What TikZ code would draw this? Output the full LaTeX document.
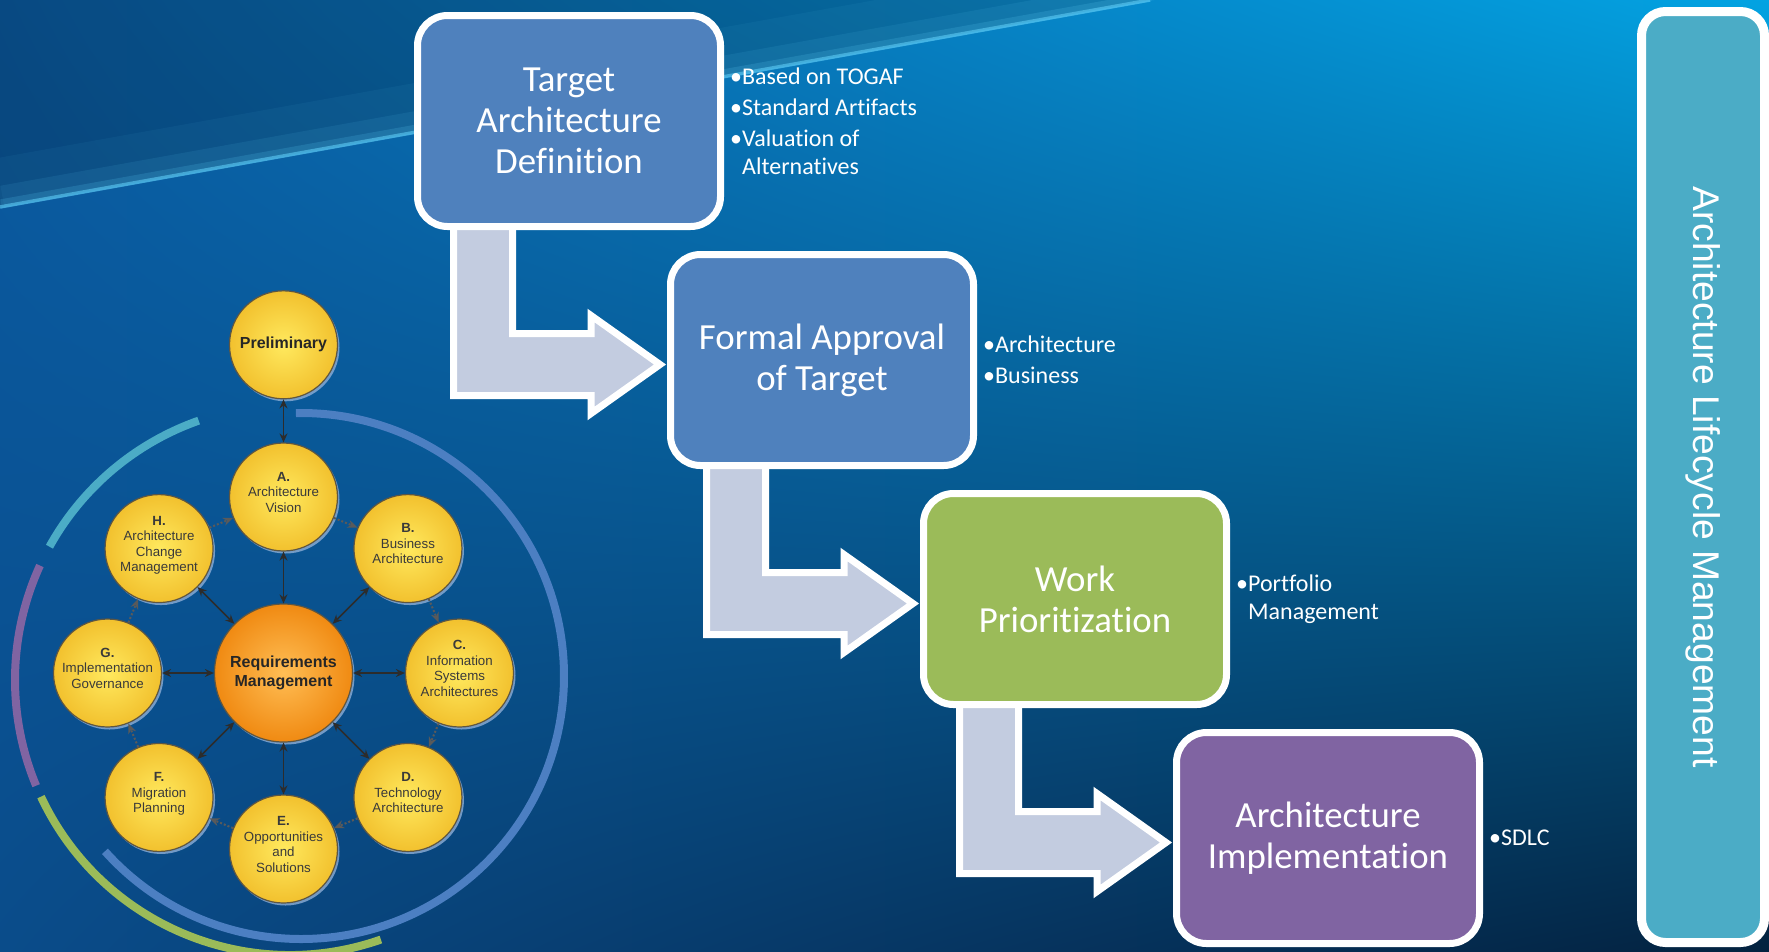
\documentclass[tikz,border=0pt]{standalone}
\usepackage{fontspec}
\setmainfont{Carlito}[Ligatures=NoCommon]
\newfontfamily\togaffont{Liberation Sans}
\usetikzlibrary{arrows.meta,positioning,calc,shadows,shadings}
\definecolor{stageblue}{HTML}{4F81BD}
\definecolor{stagegreen}{HTML}{9BBB59}
\definecolor{stagepurple}{HTML}{8064A2}
\definecolor{lifeteal}{HTML}{4BACC6}
\definecolor{arrowgrey}{HTML}{C3CCE0}
\definecolor{bgul}{HTML}{0A5CA3}
\definecolor{bgur}{HTML}{03A3E2}
\definecolor{bgll}{HTML}{0A4C8A}
\definecolor{bglr}{HTML}{03223F}
\definecolor{glowcyan}{HTML}{5CCBF5}
\definecolor{sunlight}{HTML}{FFE95E}
\definecolor{sungold}{HTML}{F2C12E}
\definecolor{orangelight}{HTML}{FFBE55}
\definecolor{orangedeep}{HTML}{F08A12}
\definecolor{rimgrey}{HTML}{5E5642}
\definecolor{inkgrey}{HTML}{3A3A3A}
\definecolor{tipgrey}{HTML}{2C2C2C}
\definecolor{dotgrey}{HTML}{5A5A5A}
\definecolor{shadeblue}{HTML}{8EAED6}
\definecolor{ringblue}{HTML}{4C7FC2}
\pgfdeclarelayer{backdrop}
\pgfdeclarelayer{flow}
\pgfsetlayers{backdrop,flow,main}

\begin{document}
\begin{tikzpicture}[x=1pt,y=-1pt,
 stage/.style={draw=white,line width=7pt,rounded corners=30pt,minimum width=303pt,minimum height=211pt,inner sep=0pt,align=center,text=white,font=\fontsize{36.8}{41}\selectfont},
 notes/.style={inner sep=0pt,align=left,text=white,font=\fontsize{24}{28}\selectfont},
 flowarrow/.style={fill=arrowgrey,draw=white,line width=7pt,line join=miter},
 lifebar/.style={draw=white,line width=9pt,fill=lifeteal,rounded corners=24pt,minimum width=931pt,minimum height=123pt,inner sep=0pt,text=white,font=\togaffont\fontsize{37.2}{40}\selectfont},
 phase/.style={circle,minimum size=108pt,inner sep=0pt,align=center,draw=rimgrey,line width=1.2pt,shade,shading=radial,inner color=sunlight,outer color=sungold,text=inkgrey,font=\togaffont\fontsize{13.3}{15.5}\selectfont,drop shadow={shadow xshift=2pt,shadow yshift=-2.5pt,fill=shadeblue,opacity=.8}},
 hub/.style={phase,minimum size=138pt,inner color=orangelight,outer color=orangedeep,text=black!85,font=\togaffont\bfseries\fontsize{16}{19.3}\selectfont},
 duo/.style={{Stealth[length=9pt,width=8pt]}-{Stealth[length=9pt,width=8pt]},line width=1.6pt,draw=tipgrey},
 cyc/.style={-{Stealth[length=10pt,width=8pt]},line width=2pt,draw=dotgrey,dotted},
 ring/.style={line width=8pt}
]
\useasboundingbox (0,0) rectangle (1769,951);
% backdrop
\begin{pgfonlayer}{backdrop}
\shade[upper left=bgul,upper right=bgur,lower left=bgll,lower right=bglr] (0,0) rectangle (1769,951);
\fill[black,opacity=.2] (0,0) -- (1150,0) -- (0,207) -- cycle;
\draw[glowcyan,line width=50pt,opacity=.06] (0,183) -- (1150,-24);
\draw[glowcyan,line width=22pt,opacity=.10] (0,197) -- (1150,-10);
\draw[glowcyan,line width=9pt,opacity=.18] (0,204) -- (1150,-3);
\draw[glowcyan,line width=3.5pt,opacity=.6] (0,207) -- (1150,0);
\end{pgfonlayer}

% lifecycle stages
\node[stage,fill=stageblue] (tad) at (569,121) {Target\\Architecture\\Definition};
\node[stage,fill=stageblue,below right=21pt and -57pt of tad] (fat) {Formal Approval\\of Target};
\node[stage,fill=stagegreen,below right=21pt and -57pt of fat] (wp) {Work\\Prioritization};
\node[stage,fill=stagepurple,below right=21pt and -57pt of wp] (aim) {Architecture\\Implementation};

\node[notes,right=6pt of tad] (tadnotes) {\textbullet Based on TOGAF\\[3pt]\textbullet Standard Artifacts\\[3pt]\textbullet Valuation of\\\hphantom{\textbullet}Alternatives};
\node[notes,right=6pt of fat] (fatnotes) {\textbullet Architecture\\[3pt]\textbullet Business};
\node[notes,right=6pt of wp] (wpnotes) {\textbullet Portfolio\\\hphantom{\textbullet}Management};
\node[notes,right=6pt of aim] (aimnotes) {\textbullet SDLC};

\begin{pgfonlayer}{flow}
\foreach \src in {tad,fat,wp}
  \draw[flowarrow,shift={(\src.south west)}] (39.5,-20) -- (39.5,165.5) -- (177,165.5) -- (177,183.5) -- (246,134.5) -- (177,85.5) -- (177,103.5) -- (98.5,103.5) -- (98.5,-20) -- cycle;
\end{pgfonlayer}

\node[lifebar,rotate=-90] (alm) at (1703,477) {Architecture Lifecycle Management};

% TOGAF wheel
\coordinate (ringc) at (301,676);
\coordinate (outc) at (290,680);
\draw[ring,ringblue] ($(ringc)+(-91.1:263)$) arc[start angle=-91.1,end angle=138.2,radius=263];
\draw[ring,lifeteal] ($(outc)+(209:275)$) arc[start angle=209,end angle=250.6,radius=275];
\draw[ring,stagepurple] ($(outc)+(157.4:275)$) arc[start angle=157.4,end angle=204.6,radius=275];
\draw[ring,stagegreen] ($(outc)+(70.7:275)$) arc[start angle=70.7,end angle=154.9,radius=275];

\node[hub] (rm) at (283.5,673) {Requirements\\Management};
\foreach \ang/\nm/\lbl in {
  -90/pa/{\textbf{A.}\\Architecture\\Vision},
  -45/pb/{\textbf{B.}\\Business\\Architecture},
  0/pc/{\textbf{C.}\\Information\\Systems\\Architectures},
  45/pd/{\textbf{D.}\\Technology\\Architecture},
  90/pe/{\textbf{E.}\\Opportunities\\and\\Solutions},
  135/pf/{\textbf{F.}\\Migration\\Planning},
  180/pg/{\textbf{G.}\\Implementation\\Governance},
  225/ph/{\textbf{H.}\\Architecture\\Change\\Management}}
  \node[phase] (\nm) at ($(rm)+(\ang:176)$) {\lbl\\[-6pt]\mbox{}};
\node[phase,above=43pt of pa,text=black!85,font=\togaffont\bfseries\fontsize{16}{19}\selectfont] (pre) {Preliminary};

\draw[duo] (pre) -- (pa);
\foreach \nm in {pa,pb,pc,pd,pe,pf,pg,ph}
  \draw[duo] (rm) -- (\nm);
\foreach \a/\b in {pa/pb,pb/pc,pc/pd,pd/pe,pe/pf,pf/pg,pg/ph,ph/pa}
  \draw[cyc] (\a) -- (\b);
\end{tikzpicture}
\end{document}
